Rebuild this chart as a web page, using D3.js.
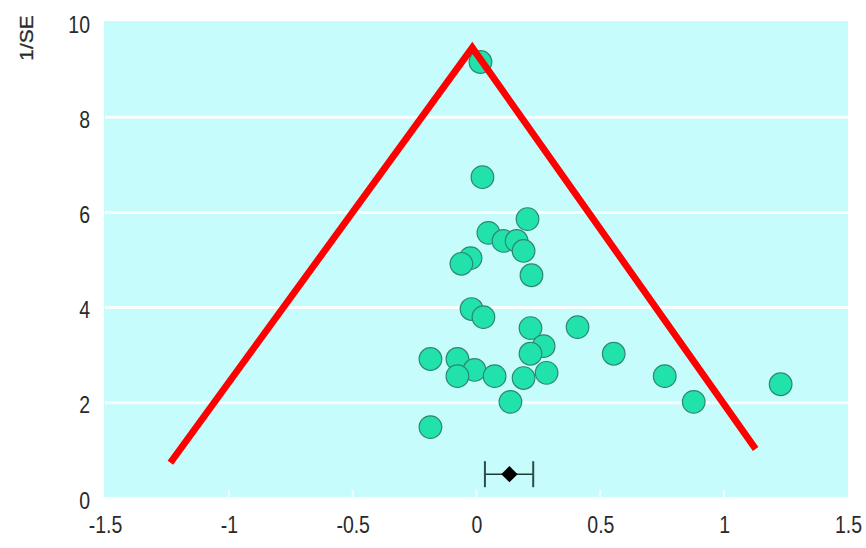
<!DOCTYPE html>
<html>
<head>
<meta charset="utf-8">
<script src="https://cdn.jsdelivr.net/npm/d3@7/dist/d3.min.js"></script>
<style>
  html, body { margin: 0; padding: 0; background: #ffffff; }
  svg { display: block; }
  text { font-family: "Liberation Sans", Arial, sans-serif; }
</style>
</head>
<body>
<svg id="chart" width="866" height="548"></svg>
<script>
// Study effects (x) against precision 1/SE (y)
const effectX = [0.016, 0.024, 0.206, 0.048, 0.109, 0.162, 0.190, -0.024, -0.061, 0.222,
                 -0.020, 0.028, 0.218, 0.408, 0.271, 0.218, 0.554, -0.186, -0.077, -0.008,
                 -0.077, 0.073, 0.283, 0.190, 0.760, 1.228, 0.877, 0.137, -0.186];
const precisionY = [9.16, 6.74, 5.86, 5.57, 5.40, 5.40, 5.19, 5.04, 4.92, 4.68,
                    3.97, 3.80, 3.57, 3.59, 3.19, 3.03, 3.03, 2.92, 2.92, 2.69,
                    2.56, 2.56, 2.63, 2.52, 2.56, 2.39, 2.02, 2.02, 1.49];

// Funnel outline: left foot, apex, right foot
const funnelX = [-1.236, -0.017, 1.127];
const funnelY = [0.74, 9.46, 1.03];

// Pooled estimate with its confidence interval
const pooledEstimate = 0.133;
const pooledLow = 0.034;
const pooledHigh = 0.229;
const pooledY = 0.50;

const xTicks = [-1.5, -1, -0.5, 0, 0.5, 1, 1.5];
const yTicks = [0, 2, 4, 6, 8, 10];
const gridY = [2, 4, 6, 8];
const yTitle = "1/SE";

const svg = d3.select("#chart");
const x = d3.scaleLinear().domain([-1.5, 1.5]).range([105, 848]);
const y = d3.scaleLinear().domain([0, 10]).range([498, 22]);

// Panel background
svg.append("rect")
  .attr("x", x(-1.5) - 1).attr("y", y(10) - 1)
  .attr("width", x(1.5) - x(-1.5) + 1)
  .attr("height", y(0) - y(10))
  .attr("fill", "#c6fcfc");

// Horizontal white gridlines
svg.append("g").selectAll("line").data(gridY).join("line")
  .attr("x1", x(-1.5)).attr("x2", x(1.5))
  .attr("y1", d => y(d)).attr("y2", d => y(d))
  .attr("stroke", "#ffffff").attr("stroke-width", 3).attr("opacity", 0.9);

// Small inner tick marks along the bottom
svg.append("g").selectAll("line").data(xTicks.slice(1, -1)).join("line")
  .attr("x1", d => x(d)).attr("x2", d => x(d))
  .attr("y1", y(0) - 1).attr("y2", y(0) - 8)
  .attr("stroke", "#ffffff").attr("stroke-width", 2).attr("opacity", 0.8);

// Study points
const pts = effectX.map((v, i) => ({ x: v, y: precisionY[i] }));
svg.append("g").selectAll("circle").data(pts).join("circle")
  .attr("cx", d => x(d.x)).attr("cy", d => y(d.y)).attr("r", 11.3)
  .attr("fill", "#22e2ab").attr("stroke", "#2c8870").attr("stroke-width", 1.2);

// Funnel lines
const funnel = funnelX.map((v, i) => [x(v), y(funnelY[i])]);
svg.append("path")
  .attr("d", d3.line()(funnel))
  .attr("fill", "none").attr("stroke", "#ff0000")
  .attr("stroke-width", 6.8).attr("stroke-linejoin", "miter");

// Pooled estimate: interval with caps and diamond
const pg = svg.append("g");
pg.append("line")
  .attr("x1", x(pooledLow)).attr("x2", x(pooledHigh))
  .attr("y1", y(pooledY)).attr("y2", y(pooledY))
  .attr("stroke", "#1f3b36").attr("stroke-width", 1.6);
pg.selectAll("line.cap").data([pooledLow, pooledHigh]).join("line")
  .attr("class", "cap")
  .attr("x1", d => x(d)).attr("x2", d => x(d))
  .attr("y1", y(pooledY) - 13).attr("y2", y(pooledY) + 13)
  .attr("stroke", "#2a4d47").attr("stroke-width", 2);
pg.append("path")
  .attr("d", d3.symbol().type(d3.symbolDiamond2).size(170)())
  .attr("transform", `translate(${x(pooledEstimate)},${y(pooledY)})`)
  .attr("fill", "#000000");

// Axes
const fmt = d => String(d);
const xAxis = svg.append("g")
  .attr("transform", "translate(0,525)")
  .call(d3.axisBottom(x).tickValues(xTicks).tickFormat(fmt).tickSize(0).tickPadding(0));
xAxis.select(".domain").remove();
xAxis.selectAll("text")
  .attr("y", 0).attr("dy", "0.35em")
  .attr("transform", "scale(1,1.2)")
  .attr("font-size", 19.5).attr("fill", "#2a2a2a")
  .attr("font-family", "Liberation Sans, Arial, sans-serif");

const yAxis = svg.append("g")
  .attr("transform", "translate(90,2)")
  .call(d3.axisLeft(y).tickValues(yTicks).tickFormat(fmt).tickSize(0).tickPadding(0));
yAxis.select(".domain").remove();
yAxis.selectAll("text")
  .attr("x", 0).attr("dy", "0.35em")
  .attr("transform", "scale(1,1.2)")
  .attr("font-size", 19.5).attr("fill", "#2a2a2a")
  .attr("font-family", "Liberation Sans, Arial, sans-serif");

// Y axis title
svg.append("text")
  .attr("transform", "translate(26,38) scale(1,1.1) rotate(-90)")
  .attr("text-anchor", "middle").attr("dy", "0.35em")
  .attr("font-size", 19).attr("fill", "#2a2a2a")
  .attr("stroke", "#2a2a2a").attr("stroke-width", 0.3)
  .text(yTitle);
</script>
</body>
</html>
